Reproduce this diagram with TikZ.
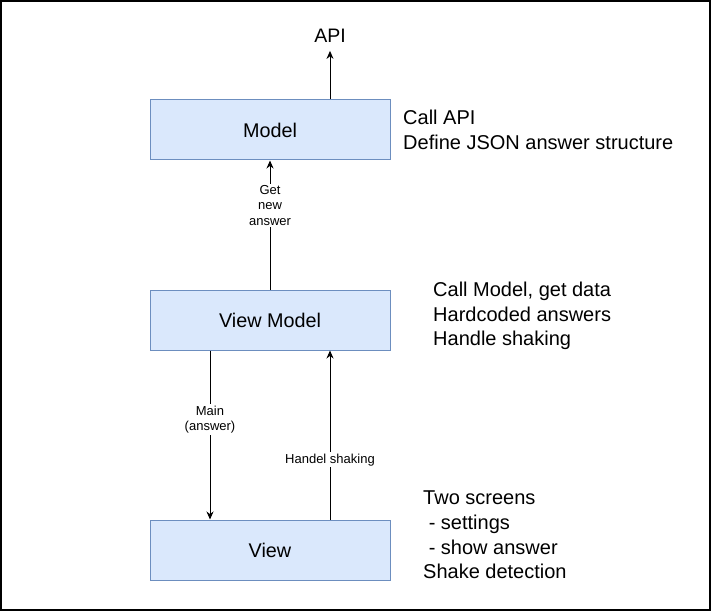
\documentclass[tikz,border=0pt]{standalone}
\usepackage{fontspec}
\setmainfont{Liberation Sans}
\usetikzlibrary{arrows.meta}
\definecolor{boxfill}{HTML}{DAE8FC}
\definecolor{boxline}{HTML}{6C8EBF}
\tikzset{
	layer/.style={draw=boxline,fill=boxfill,line width=1pt,minimum width=240pt,minimum height=60pt,font=\fontsize{19.8}{24}\selectfont},
	note/.style={anchor=west,align=left,inner sep=0pt,font=\fontsize{20}{24.7}\selectfont},
	flow/.style={line width=1pt,-{Stealth[length=8pt,width=7pt]}},
	lbl/.style={fill=white,align=center,inner sep=1.5pt,font=\fontsize{13}{15.5}\selectfont}
}
\begin{document}
\begin{tikzpicture}[x=1pt,y=-1pt]
				\useasboundingbox (0,0) rectangle (722,612);
				\draw[line width=1.5pt] (1,1) rectangle (710,610);
				\foreach \nm/\y/\txt in {model/130/Model,vm/320/View Model,view/550/View}
				\node[layer] (\nm) at (270,\y) {\txt};
				\node[inner sep=0pt,font=\fontsize{19.5}{23}\selectfont] (api) at (330,36) {API};
				\node[note] (modelnote) at (403,130) {Call API\\Define JSON answer structure};
				\node[note] (vmnote) at (433,316) {Call Model, get data\\Hardcoded answers\\Handle shaking};
				\node[note] (viewnote) at (423,535) {Two screens\\\ - settings\\\ - show answer\\Shake detection};
				\draw[flow,shorten >=8pt] (api |- model.north) -- (api.south);
				\draw[flow] (vm.north) -- node[lbl,pos=0.654] {Get\\new\\answer} (model.south);
				\draw[flow] ([xshift=-60pt]vm.south) -- node[lbl,pos=0.41] {Main\\(answer)} ([xshift=-60pt]view.north);
				\draw[flow] ([xshift=60pt]view.north) -- node[lbl,pos=0.353] {Handel shaking} ([xshift=60pt]vm.south);
			\end{tikzpicture}
\end{document}
